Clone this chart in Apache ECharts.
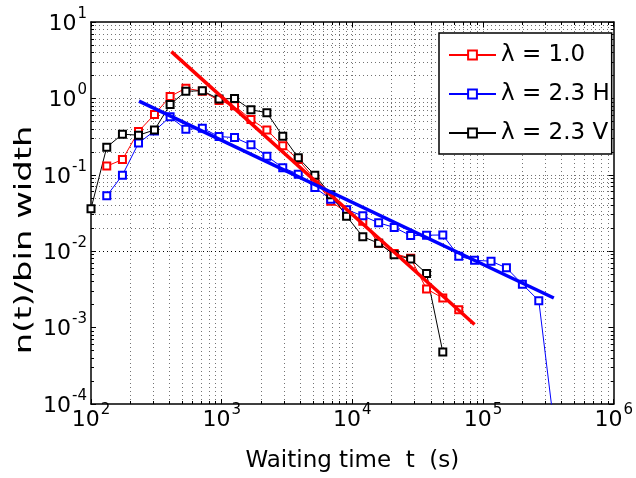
<!DOCTYPE html>
<html lang="en">
<head>
<meta charset="UTF-8">
<title>Waiting time distribution</title>
<script src="https://cdn.jsdelivr.net/npm/echarts@6/dist/echarts.min.js"></script>
<style>
  html, body { margin: 0; padding: 0; background: #fff; }
  #main { width: 636px; height: 478px; }
</style>
</head>
<body>
<div id="main"></div>
<script>
// waiting time bins (s) and n(t)/bin width
var tRed = [132, 174, 231, 306, 403, 532, 711, 955, 1254, 1675, 2217, 2933, 3854, 5160,
            6826, 9033, 12020, 15890, 20900, 27930, 36960, 49200, 65200];
var nRed = [0.13, 0.158, 0.37, 0.615, 1.06, 1.36, 1.24, 0.94, 0.8, 0.53, 0.386, 0.24, 0.158, 0.088,
            0.045, 0.032, 0.0247, 0.0127, 0.0093, 0.0081, 0.0032, 0.00244, 0.00171];

var tBlue = [132, 174, 231, 306, 403, 532, 711, 955, 1254, 1675, 2217, 2933, 3854, 5160,
             6826, 9033, 12020, 15890, 20900, 27930, 36960, 49200, 65200, 86100, 115100,
             151000, 200000, 267000, 353000];
var nBlue = [0.053, 0.099, 0.26, 0.375, 0.574, 0.394, 0.406, 0.317, 0.307, 0.247, 0.175, 0.124, 0.102, 0.068,
             0.048, 0.035, 0.029, 0.0235, 0.0205, 0.016, 0.0162, 0.0163, 0.0086, 0.0076, 0.0074,
             0.00605, 0.0037, 0.00225, 0.000045];

var tBlack = [100, 132, 174, 231, 306, 403, 532, 711, 955, 1254, 1675, 2217, 2933, 3854, 5160,
              6826, 9033, 12020, 15890, 20900, 27930, 36960, 49200];
var nBlack = [0.036, 0.23, 0.34, 0.33, 0.386, 0.83, 1.24, 1.26, 0.98, 1.0, 0.71, 0.65, 0.32, 0.167, 0.099,
              0.055, 0.0287, 0.0155, 0.0127, 0.009, 0.0079, 0.0051, 0.00048];

// power-law fits (end points)
var fitRedT = [412, 86100];
var fitRedN = [4.1, 0.0011];
var fitBlueT = [233, 348000];
var fitBlueN = [0.923, 0.00244];

var names = ['λ = 1.0', 'λ = 2.3 H', 'λ = 2.3 V'];

// axis ticks
var xDecades = [100, 1000, 10000, 100000];
var yDecades = [0.0001, 0.001, 0.01, 0.1, 1];
var mults = [2, 3, 4, 5, 6, 7, 8, 9];

var xMinor = [], yMinor = [];
xDecades.forEach(function (d) { mults.forEach(function (m) { xMinor.push(m * d); }); });
yDecades.forEach(function (d) { mults.forEach(function (m) { yMinor.push(m * d); }); });
var xGrid = xMinor.concat([1000, 10000, 100000]);
var yGrid = yMinor.concat([0.001, 0.01, 0.1, 1]);

var font = '"DejaVu Sans", Arial, Helvetica, sans-serif';

function zip(a, b) {
    return a.map(function (v, i) { return [v, b[i]]; });
}
function expLabel(v) {
    var e = Math.round(Math.log10(v));
    return '{b|10}{s|' + e + '}';
}
var labelRich = {
    b: { fontSize: 22, fontFamily: font, color: '#000', lineHeight: 22, padding: [4, 0, 0, 0] },
    s: { fontSize: 15, fontFamily: font, color: '#000', lineHeight: 10, padding: [0, 0, 16, 1] }
};
var axisLine = { show: true, onZero: false, lineStyle: { color: '#000', width: 1.5 } };

function xAx(pos, minor, main) {
    var a = {
        type: 'log', logBase: 10, min: 100, max: 1000000, position: pos, splitNumber: 4,
        axisLine: minor ? { show: false } : axisLine,
        axisTick: { show: true, inside: true, length: minor ? 3 : 5, lineStyle: { color: '#000' } },
        axisLabel: { show: false },
        splitLine: { show: false }, minorTick: { show: false }, minorSplitLine: { show: false }
    };
    if (minor) a.axisTick.customValues = xMinor;
    if (main) {
        a.axisLabel = { show: true, formatter: expLabel, margin: 3, rich: labelRich };
        a.name = 'Waiting time  t  (s)';
        a.nameLocation = 'middle';
        a.nameGap = 46;
        a.nameTextStyle = { fontSize: 23, color: '#000', fontFamily: font };
    }
    return a;
}
function yAx(pos, minor, main) {
    var a = {
        type: 'log', logBase: 10, min: 0.0001, max: 10, position: pos, splitNumber: 5,
        axisLine: minor ? { show: false } : axisLine,
        axisTick: { show: true, inside: true, length: minor ? 3 : 5, lineStyle: { color: '#000' } },
        axisLabel: { show: false },
        splitLine: { show: false }, minorTick: { show: false }, minorSplitLine: { show: false }
    };
    if (minor) a.axisTick.customValues = yMinor;
    if (main) {
        a.axisLabel = { show: true, formatter: expLabel, margin: 4, rich: labelRich };
    }
    return a;
}

var gridLines = xGrid.map(function (v) { return { xAxis: v }; })
    .concat(yGrid.map(function (v) { return { yAxis: v }; }));

function dataSeries(name, t, n, color) {
    return {
        name: name, type: 'line', data: zip(t, n),
        symbol: 'emptyRect', symbolSize: 7, showSymbol: true,
        lineStyle: { color: color, width: 1 },
        itemStyle: { color: color, borderColor: color, borderWidth: 1 },
        clip: true, z: 3, emphasis: { disabled: true }
    };
}
function fitSeries(t, n, color) {
    return {
        name: 'fit', type: 'line', data: zip(t, n), symbol: 'none',
        lineStyle: { color: color, width: 3.5 }, clip: true, z: 4,
        emphasis: { disabled: true }, silent: true
    };
}

var chart = echarts.init(document.getElementById('main'), null, { renderer: 'canvas' });
chart.setOption({
    animation: false,
    backgroundColor: '#fff',
    textStyle: { fontFamily: font },
    grid: { left: 91, top: 22, right: 18, bottom: 68, containLabel: false },
    // y-axis title, stretched along its length like the original export
    graphic: [{
        type: 'text', x: 25, y: 240, rotation: Math.PI / 2, scaleX: 1.47, scaleY: 1,
        silent: true,
        style: { text: 'n(t)/bin width', fontSize: 23, fontFamily: font, fill: '#000',
                 align: 'center', verticalAlign: 'middle' }
    }],
    legend: {
        orient: 'vertical', left: 439, top: 33, data: names,
        backgroundColor: '#fff', borderColor: '#000', borderWidth: 1.5, borderRadius: 0,
        padding: [10, 2, 9, 9], itemWidth: 47, itemHeight: 11, itemGap: 15,
        textStyle: { fontSize: 23, color: '#000', fontFamily: font, lineHeight: 24 },
        selectedMode: false
    },
    xAxis: [xAx('bottom', false, true), xAx('bottom', true), xAx('top', false), xAx('top', true)],
    yAxis: [yAx('left', false, true), yAx('left', true), yAx('right', false), yAx('right', true)],
    series: [
        {
            name: 'grid', type: 'line', data: [], z: 1, silent: true,
            markLine: {
                silent: true, z: 1, symbol: ['none', 'none'], label: { show: false },
                lineStyle: { color: '#000', width: 1, type: [1, 3], opacity: 0.55 },
                emphasis: { disabled: true },
                data: gridLines
            }
        },
        dataSeries(names[0], tRed, nRed, '#ff0000'),
        dataSeries(names[1], tBlue, nBlue, '#0000ff'),
        dataSeries(names[2], tBlack, nBlack, '#000000'),
        fitSeries(fitRedT, fitRedN, '#ff0000'),
        fitSeries(fitBlueT, fitBlueN, '#0000ff')
    ]
});
</script>
</body>
</html>
